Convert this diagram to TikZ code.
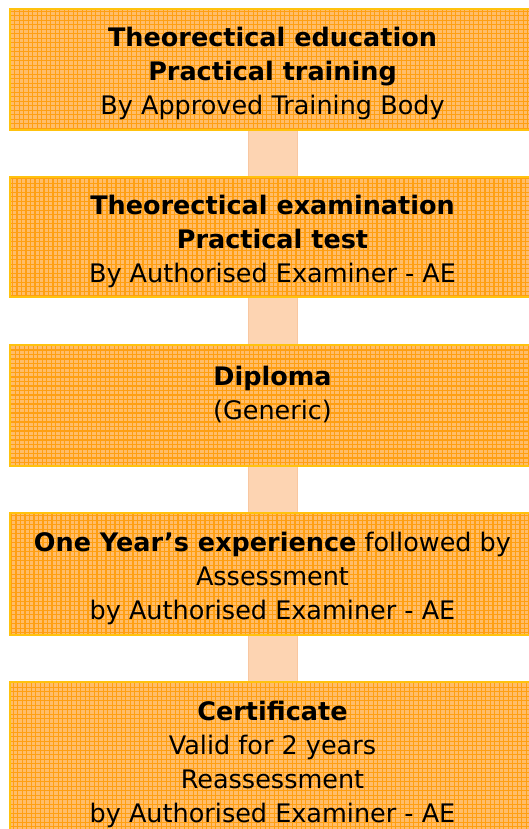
\documentclass[tikz,border=0pt]{standalone}
\usepackage{fontspec}
\setmainfont{DejaVu Sans}
\definecolor{boxfill}{HTML}{FFBD6A}
\definecolor{boxgrid}{HTML}{FF9F12}
\definecolor{boxedge}{HTML}{FFC20E}
\definecolor{connfill}{HTML}{FDD4B2}
\definecolor{connedge}{HTML}{F9C7A0}
\newcommand{\tp}{\rule{0pt}{28pt}}
\begin{document}
\begin{tikzpicture}[x=1pt,y=1pt,
  box/.style={rectangle, draw=boxedge, line width=2pt, fill=boxfill,
    minimum width=525pt, inner sep=0pt, align=center,
    font=\fontsize{25.5}{34}\selectfont,
    path picture={\draw[boxgrid, line width=1.1pt, step=4.5pt]
      (path picture bounding box.south west) grid (path picture bounding box.north east);}},
  conn/.style={draw=connedge, line width=1pt, double=connfill, double distance=48pt}]
\useasboundingbox (0,0) rectangle (529,-829);
\clip (0,0) rectangle (529,-829);
\node[box, minimum height=121pt] (b1) at (272.5,-69.5)
  {\tp\textbf{Theorectical education}\\\textbf{Practical training}\\By Approved Training Body};
\node[box, minimum height=120pt] (b2) at (272.5,-237)
  {\tp\textbf{Theorectical examination}\\\textbf{Practical test}\\By Authorised Examiner - AE};
\node[box, minimum height=121pt] (b3) at (272.5,-405.5)
  {\tp\textbf{Diploma}\\(Generic)\\\mbox{}};
\node[box, minimum height=122pt] (b4) at (272.5,-574)
  {\tp\textbf{One Year’s experience} followed by\\Assessment\\by Authorised Examiner - AE};
\node[box, minimum height=156pt] (b5) at (272.5,-760)
  {\tp\textbf{Certificate}\\Valid for 2 years\\Reassessment\\by Authorised Examiner - AE};
\draw[conn] (b1.south) -- (b2.north);
\draw[conn] (b2.south) -- (b3.north);
\draw[conn] (b3.south) -- (b4.north);
\draw[conn] (b4.south) -- (b5.north);
\end{tikzpicture}
\end{document}
